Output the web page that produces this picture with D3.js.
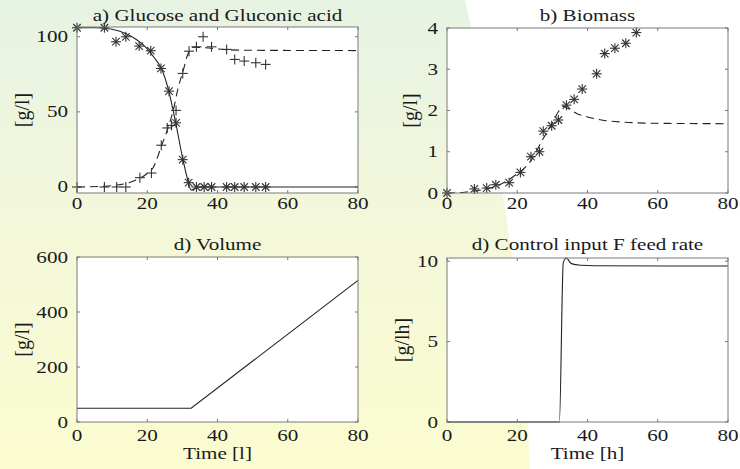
<!DOCTYPE html>
<html>
<head>
<meta charset="utf-8">
<script src="https://cdn.jsdelivr.net/npm/d3@7"></script>
<style>
  body { margin: 0; background: #fff; }
</style>
</head>
<body>
<div id="chart"></div>
<script>
// measured values (glucose / gluconic acid)
var glucTime = [0, 7.8, 11.1, 13.9, 17.7, 21, 23.9, 26.2, 28.2, 30.1, 31.8, 34, 36.2, 38.3, 42.6, 44.9, 47.6, 50.9, 53.7];
var glucObs = [106, 106, 96.7, 100, 93.8, 90.7, 78.9, 63.8, 42.7, 18.2, 2.9, 0, 0, 0, 0, 0, 0, 0, 0];
var acidTime = [0, 7.8, 11.3, 13.9, 17.9, 21.2, 24, 25.7, 26.9, 28.2, 30.1, 31.9, 34, 35.9, 38.3, 42.6, 44.9, 47.6, 50.9, 53.7];
var acidObs = [0, 0, 0, 0, 6.2, 9.3, 27.8, 39.3, 41, 51, 75.6, 90.4, 93.3, 100, 93.3, 91.6, 84.9, 83.8, 82.7, 81.6];

// model curves
var glucModelTime = [0, 5, 10, 14, 17, 20, 22, 24, 26, 28, 30, 31.5, 32.5, 33.5, 35, 80];
var glucModel = [106, 106, 105, 102, 98, 92, 86, 79, 65, 44, 20, 5, -2, -1, 0, 0];
var acidModelTime = [0, 8, 12, 15, 18, 20, 21.7, 24, 26, 27.4, 28.8, 30.3, 31.5, 33, 36, 42, 50, 80];
var acidModel = [0, 0.5, 1.5, 3, 6, 9, 13, 27, 40, 51, 66, 78, 88, 93, 92.8, 91.5, 91, 90.8];

// biomass
var bioTime = [0, 7.8, 11.3, 13.9, 17.7, 20.9, 23.9, 26.3, 27.4, 29.8, 31.7, 34, 36.2, 38.5, 42.6, 44.9, 47.8, 50.9, 53.9];
var bioObs = [0, 0.1, 0.12, 0.2, 0.25, 0.5, 0.88, 1.0, 1.5, 1.63, 1.77, 2.13, 2.27, 2.52, 2.89, 3.38, 3.51, 3.63, 3.89];
var bioModelTime = [0, 5, 10, 15, 19.4, 23.6, 27.4, 30, 31.7, 33.2, 34.5, 36.9, 39.8, 44, 50, 60, 80];
var bioModel = [0, 0.02, 0.08, 0.2, 0.43, 0.75, 1.32, 1.7, 1.97, 2.1, 2.05, 1.93, 1.85, 1.77, 1.72, 1.69, 1.68];

// volume and feed
var volTime = [0, 32.5, 80];
var volModel = [50, 50, 515];
var feedTime = [0, 32, 33.1, 34, 35.4, 38, 42, 80];
var feedModel = [0, 0, 9.9, 10.2, 9.85, 9.75, 9.72, 9.7];

var xTicks = [0, 20, 40, 60, 80];

var W = 740, H = 469, SX = 1.32;
var FONT = "'Liberation Serif', 'Times New Roman', 'DejaVu Serif', serif";
var svg = d3.select("#chart").append("svg").attr("width", W).attr("height", H);

var defs = svg.append("defs");
var grad = defs.append("linearGradient").attr("id", "bg").attr("x1", 0).attr("y1", 0).attr("x2", 0).attr("y2", 1);
grad.append("stop").attr("offset", "0%").attr("stop-color", "#e7f3e3");
grad.append("stop").attr("offset", "50%").attr("stop-color", "#f4f8da");
grad.append("stop").attr("offset", "100%").attr("stop-color", "#fbfccf");
svg.append("rect").attr("width", W).attr("height", H).attr("fill", "url(#bg)");
svg.append("path").attr("d", "M465,0 Q520,234 530,469 L740,469 L740,0 Z").attr("fill", "#fff");

function label(g, x, y, txt, anchor, rot) {
  return g.append("text")
    .attr("transform", "translate(" + x + "," + y + ")" + (rot ? " rotate(-90)" : " scale(" + SX + ",1)"))
    .attr("text-anchor", anchor || "middle")
    .attr("font-family", FONT)
    .attr("font-size", rot ? 20 : 16)
    .attr("fill", "#1a1a1a")
    .text(txt);
}

function zip(a, b) { return a.map(function(v, i) { return [v, b[i]]; }); }

function panel(p) {
  var x = d3.scaleLinear().domain([0, 80]).range([p.left, p.right]);
  var y = d3.scaleLinear().domain(p.ydom).range([p.bottom, p.top]);
  var g = svg.append("g");
  g.append("rect").attr("x", p.left).attr("y", p.top)
    .attr("width", p.right - p.left).attr("height", p.bottom - p.top)
    .attr("fill", "#fff");

  // inward ticks on all four sides
  xTicks.forEach(function(t) {
    g.append("line").attr("x1", x(t)).attr("x2", x(t)).attr("y1", p.bottom).attr("y2", p.bottom - 3).attr("stroke", "#777");
    g.append("line").attr("x1", x(t)).attr("x2", x(t)).attr("y1", p.top).attr("y2", p.top + 3).attr("stroke", "#777");
    label(g, x(t), p.xlabY, t);
  });
  p.yticks.forEach(function(t) {
    g.append("line").attr("y1", y(t)).attr("y2", y(t)).attr("x1", p.left).attr("x2", p.left + 3).attr("stroke", "#777");
    g.append("line").attr("y1", y(t)).attr("y2", y(t)).attr("x1", p.right).attr("x2", p.right - 3).attr("stroke", "#777");
    label(g, p.left - 9, y(t) + 5.5, t, "end");
  });

  var line = d3.line().x(function(d) { return x(d[0]); }).y(function(d) { return y(d[1]); });
  p.lines.forEach(function(l) {
    g.append("path").datum(l.data)
      .attr("fill", "none").attr("stroke", "#222").attr("stroke-width", 1.1)
      .attr("stroke-dasharray", l.dash ? "8,5" : null)
      .attr("d", line.curve(l.curve || d3.curveLinear));
  });

  (p.marks || []).forEach(function(m) {
    m.data.forEach(function(d) {
      var cx = x(d[0]), cy = y(d[1]), r = 5;
      var segs = [[-r, 0, r, 0], [0, -r, 0, r]];
      if (m.type === "star") {
        var k = r * 0.75;
        segs.push([-k, -k, k, k], [-k, k, k, -k]);
      }
      segs.forEach(function(s) {
        g.append("line").attr("x1", cx + s[0]).attr("y1", cy + s[1]).attr("x2", cx + s[2]).attr("y2", cy + s[3])
          .attr("stroke", "#333").attr("stroke-width", 1.1);
      });
    });
  });

  g.append("rect").attr("x", p.left).attr("y", p.top)
    .attr("width", p.right - p.left).attr("height", p.bottom - p.top)
    .attr("fill", "none").attr("stroke", "#7a7a7a");

  label(g, (p.left + p.right) / 2, p.titleY, p.title);
  label(g, p.ylabX, (p.top + p.bottom) / 2, p.ylab, "middle", true);
  if (p.xlab) label(g, (p.left + p.right) / 2, p.xlabTitleY, p.xlab);
}

panel({
  left: 77, right: 358, top: 27, bottom: 193, ydom: [-4, 106.5], yticks: [0, 50, 100],
  xlabY: 209, titleY: 21, title: "a) Glucose and Gluconic acid", ylab: "[g/l]", ylabX: 29,
  lines: [
    { data: zip(glucModelTime, glucModel), curve: d3.curveMonotoneX },
    { data: zip(acidModelTime, acidModel), curve: d3.curveMonotoneX, dash: true }
  ],
  marks: [
    { type: "star", data: zip(glucTime, glucObs) },
    { type: "plus", data: zip(acidTime, acidObs) }
  ]
});

panel({
  left: 447, right: 728, top: 28, bottom: 193, ydom: [0, 4], yticks: [0, 1, 2, 3, 4],
  xlabY: 209, titleY: 21, title: "b) Biomass", ylab: "[g/l]", ylabX: 417,
  lines: [{ data: zip(bioModelTime, bioModel), curve: d3.curveMonotoneX, dash: true }],
  marks: [{ type: "star", data: zip(bioTime, bioObs) }]
});

panel({
  left: 77, right: 358, top: 257, bottom: 422, ydom: [0, 600], yticks: [0, 200, 400, 600],
  xlabY: 441, titleY: 250, title: "d) Volume", ylab: "[g/l]", ylabX: 29,
  xlab: "Time [l]", xlabTitleY: 459,
  lines: [{ data: zip(volTime, volModel) }]
});

panel({
  left: 447, right: 728, top: 258, bottom: 422, ydom: [0, 10.2], yticks: [0, 5, 10],
  xlabY: 441, titleY: 250, title: "d) Control input F feed rate", ylab: "[g/lh]", ylabX: 409,
  xlab: "Time [h]", xlabTitleY: 459,
  lines: [{ data: zip(feedTime, feedModel), curve: d3.curveMonotoneX }]
});
</script>
</body>
</html>
